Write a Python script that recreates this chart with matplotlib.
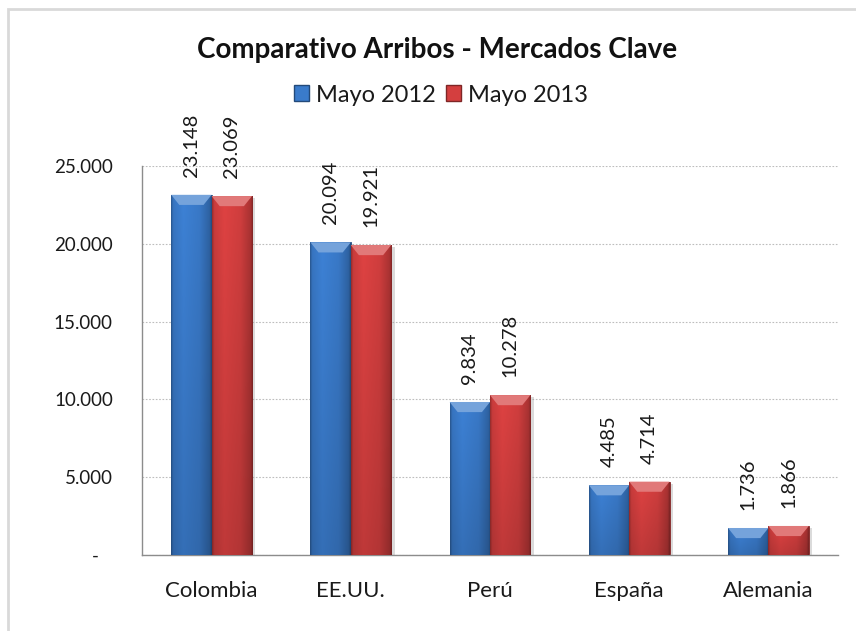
import numpy as np
import matplotlib
matplotlib.use('Agg')
import matplotlib.pyplot as plt
import matplotlib.patheffects as pe
from matplotlib.patches import Polygon, Rectangle, Patch
from matplotlib.colors import to_rgb

plt.rcParams['font.family'] = ['Lato', 'DejaVu Sans']

# datos
mercados = ['Colombia', 'EE.UU.', 'Perú', 'España', 'Alemania']
mayo_2012 = [23148, 20094, 9834, 4485, 1736]
mayo_2013 = [23069, 19921, 10278, 4714, 1866]
series = ['Mayo 2012', 'Mayo 2013']
colores = ['#3A7BCB', '#D43F3F']
yticks = [0, 5000, 10000, 15000, 20000, 25000]
ytick_labels = ['-   ', '5.000', '10.000', '15.000', '20.000', '25.000']


def fmt(v):
    return f'{v:,}'.replace(',', '.')


def cilindro(ax, barra, color, bev):
    x0, w, h = barra.get_x(), barra.get_width(), barra.get_height()
    base = np.array(to_rgb(color))
    u = np.linspace(0, 1, 64)
    horiz = np.interp(u, [0, 0.05, 0.3, 0.7, 0.95, 1], [0.72, 0.95, 1.05, 0.98, 0.8, 0.62])
    v = np.linspace(0, 1, 64)
    vert = np.interp(v, [0, 1], [1.0, 0.86])
    img = base[None, None, :] * horiz[None, :, None] * vert[:, None, None]
    img = np.clip(img, 0, 1)
    im = ax.imshow(img, extent=[x0, x0 + w, 0, h], origin='upper', aspect='auto',
                   interpolation='bilinear', zorder=3)
    im.set_clip_path(barra)
    # bisel superior
    claro = base + (1 - base) * 0.3
    top = Polygon([(x0, h), (x0 + w, h), (x0 + w * 0.8, h - bev), (x0 + w * 0.2, h - bev)],
                  closed=True, facecolor=claro, edgecolor='none', zorder=4)
    ax.add_patch(top)


fig = plt.figure(figsize=(8.56, 6.31), dpi=100)
ax = fig.add_axes([142 / 856, 76 / 631, 696 / 856, 389 / 631])

x = np.arange(len(mercados))
w = 0.29
ymax = 25000
bev = 0.026 * ymax

for k, (vals, col) in enumerate(zip([mayo_2012, mayo_2013], colores)):
    pos = x - w / 2 if k == 0 else x + w / 2
    barras = ax.bar(pos, vals, width=w, facecolor=col, edgecolor=np.array(to_rgb(col)) * 0.6,
                    linewidth=0.6, zorder=2,
                    path_effects=[pe.SimplePatchShadow(offset=(2.5, -1.5), shadow_rgbFace='#999999', alpha=0.35),
                                  pe.Normal()])
    for b, v in zip(barras, vals):
        cilindro(ax, b, col, bev)
        ax.annotate(fmt(v), (b.get_x() + b.get_width() / 2, v), xytext=(0, 13),
                    textcoords='offset points', rotation=90, ha='center', va='bottom',
                    fontsize=14.5, color='#1a1a1a')

ax.set_xlim(-0.5, len(mercados) - 0.5)
ax.set_ylim(0, ymax)
ax.set_yticks(yticks)
ax.set_yticklabels(ytick_labels)
ax.set_xticks(x)
ax.set_xticklabels(mercados)
ax.tick_params(axis='y', length=0, pad=21, labelsize=13.5, labelcolor='#1a1a1a')
ax.tick_params(axis='x', length=0, pad=19, labelsize=16, labelcolor='#1a1a1a')

for s in ['top', 'right']:
    ax.spines[s].set_visible(False)
for s in ['left', 'bottom']:
    ax.spines[s].set_color('#8C8C8C')
    ax.spines[s].set_linewidth(1.0)

ax.yaxis.grid(True, linestyle=(0, (1.5, 1.5)), color='#BDBDBD', linewidth=0.8, zorder=0)
ax.set_axisbelow(True)

fig.text(437 / 856, (631 - 50) / 631, 'Comparativo Arribos - Mercados Clave',
         ha='center', va='center', fontsize=20, fontweight='bold', color='#111111')

handles = [Patch(facecolor=c, edgecolor=np.array(to_rgb(c)) * 0.6) for c in colores]
fig.legend(handles, series, loc='center', bbox_to_anchor=(441 / 856, (631 - 95) / 631),
           ncol=2, frameon=False, handlelength=0.65, handleheight=0.65, handletextpad=0.3,
           columnspacing=0.4, fontsize=17, labelcolor='#1a1a1a')

fig.patches.append(Rectangle((8 / 856, -0.02), 1.0, (631 - 9) / 631 + 0.02, transform=fig.transFigure,
                             fill=False, edgecolor='#D9D9D9', linewidth=2))

fig.savefig('out.png', dpi=100)
